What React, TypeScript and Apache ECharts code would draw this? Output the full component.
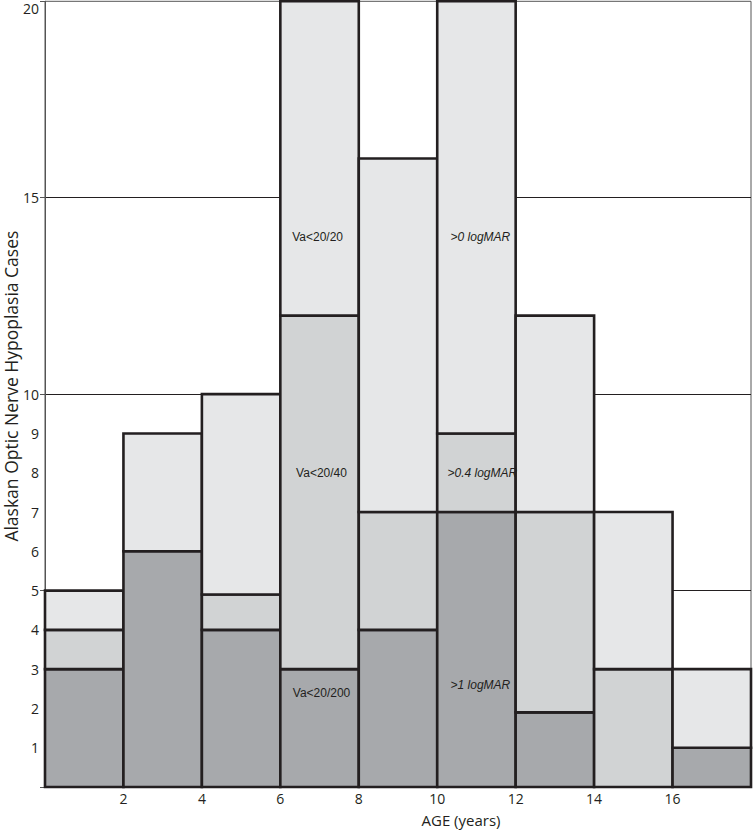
import React, { useEffect, useRef } from "react";
import * as echarts from "echarts";

// Age bins (start of each 2-year bin)
const binStarts = [0, 2, 4, 6, 8, 10, 12, 14, 16];
const binWidth = 2;
// Cases per visual-acuity class (stacked from bottom)
const severeCases = [3, 6, 4, 3, 4, 7, 1.9, 0, 1]; // >1 logMAR (Va<20/200)
const moderateCases = [1, 0, 0.9, 9, 3, 2, 5.1, 3, 0]; // >0.4 logMAR (Va<20/40)
const mildCases = [1, 3, 5.1, 8, 9, 11, 5, 4, 2]; // >0 logMAR (Va<20/20)

const yTickLabels = ["1", "2", "3", "4", "5", "6", "7", "8", "9", "10", "15", "20"];
const xTickLabels = ["2", "4", "6", "8", "10", "12", "14", "16"];

const annotationTexts = ["Va<20/20", "Va<20/40", "Va<20/200", ">0 logMAR", ">0.4 logMAR", ">1 logMAR"];
const annotationX = [6.95, 7.05, 7.05, 11.1, 11.15, 11.1];
const annotationY = [14, 8, 2.4, 14, 8, 2.6];
const annotationItalic = [false, false, false, true, true, true];

const segmentColors = ["#a7a9ac", "#d1d3d4", "#e6e7e8"];

export default function App() {
  const ref = useRef<HTMLDivElement>(null);
  useEffect(() => {
    if (!ref.current) return;
    const chart = echarts.init(ref.current, null, { renderer: "svg" });
    const segments: any[] = [];
    binStarts.forEach((x0, i) => {
      const parts = [severeCases[i], moderateCases[i], mildCases[i]];
      let base = 0;
      parts.forEach((v, k) => {
        if (v > 0) {
          segments.push([x0, x0 + binWidth, base, base + v, k]);
        }
        base += v;
      });
    });
    const annData = annotationTexts.map((t, i) => [annotationX[i], annotationY[i], t, annotationItalic[i] ? 1 : 0]);
    const textColor = "#231f20";
    const font = "'Open Sans', 'Noto Sans', sans-serif";
    chart.setOption({
      animation: false,
      grid: {
        left: 45,
        right: 2,
        top: 1.3,
        bottom: 43,
        containLabel: false,
        outerBoundsMode: "none",
        show: true,
        borderColor: "#555",
        borderWidth: 1,
        backgroundColor: "transparent",
      },
      xAxis: {
        type: "value",
        min: 0,
        max: 18,
        interval: 2,
        axisLine: { show: false },
        axisTick: { show: false },
        splitLine: { show: false },
        axisLabel: {
          margin: 4,
          fontSize: 14,
          color: textColor,
          fontFamily: font,
          formatter: (v: number) => (xTickLabels.includes(String(v)) ? String(v) : ""),
        },
        name: "AGE (years)",
        nameLocation: "middle",
        nameGap: 25,
        nameMoveOverlap: false,
        nameTextStyle: { fontSize: 15, color: textColor, fontFamily: font, padding: [0, 0, 0, 126] },
      },
      yAxis: [
        {
          type: "value",
          min: 0,
          max: 20,
          interval: 1,
          axisLine: { show: true, lineStyle: { color: "#555", width: 1 } },
          axisTick: { show: false },
          splitLine: { show: false },
          axisLabel: {
            margin: 6,
            fontSize: 14,
            color: textColor,
            fontFamily: font,
            formatter: (v: number) => {
              const s = String(v);
              if (!yTickLabels.includes(s)) return "";
              return s === "20" ? "{top|20}" : s;
            },
            rich: { top: { fontSize: 14, color: textColor, fontFamily: font, padding: [14, 0, 0, 0] } },
          },
          name: "Alaskan Optic Nerve Hypoplasia Cases",
          nameLocation: "middle",
          nameGap: 25,
          nameMoveOverlap: false,
          nameTextStyle: { fontSize: 17.5, color: textColor, fontFamily: font, padding: [0, 0, 0, 16] },
        },
        {
          type: "value",
          min: 0,
          max: 20,
          interval: 5,
          position: "left",
          axisLine: { show: false },
          axisLabel: { show: false },
          axisTick: { show: true, length: 5, lineStyle: { color: "#555", width: 1 } },
          splitLine: { show: true, showMinLine: false, showMaxLine: false, lineStyle: { color: "#231f20", width: 1 } },
        },
      ],
      series: [
        {
          type: "custom",
          yAxisIndex: 0,
          data: segments,
          encode: { x: [0, 1], y: [2, 3] },
          renderItem: (params: any, api: any) => {
            const x0 = api.value(0);
            const x1 = api.value(1);
            const y0 = api.value(2);
            const y1 = api.value(3);
            const k = api.value(4);
            const p0 = api.coord([x0, y1]);
            const p1 = api.coord([x1, y0]);
            return {
              type: "rect",
              shape: { x: p0[0], y: p0[1], width: p1[0] - p0[0], height: p1[1] - p0[1] },
              style: { fill: segmentColors[k], stroke: "#231f20", lineWidth: 2.6 },
            };
          },
          z: 2,
        },
        {
          type: "custom",
          yAxisIndex: 0,
          data: annData,
          encode: { x: 0, y: 1 },
          renderItem: (params: any, api: any) => {
            const i = params.dataIndex;
            const p = api.coord([annotationX[i], annotationY[i]]);
            return {
              type: "text",
              x: p[0],
              y: p[1],
              style: {
                text: annotationTexts[i],
                align: "center",
                verticalAlign: "middle",
                fill: "#231f20",
                font: `${annotationItalic[i] ? "italic " : ""}12px 'Liberation Sans', Arial, sans-serif`,
              },
            };
          },
          z: 3,
        },
      ],
    });
    return () => chart.dispose();
  }, []);
  return <div ref={ref} style={{ position: "absolute", left: 0, top: 0, width: 753, height: 830 }} />;
}
